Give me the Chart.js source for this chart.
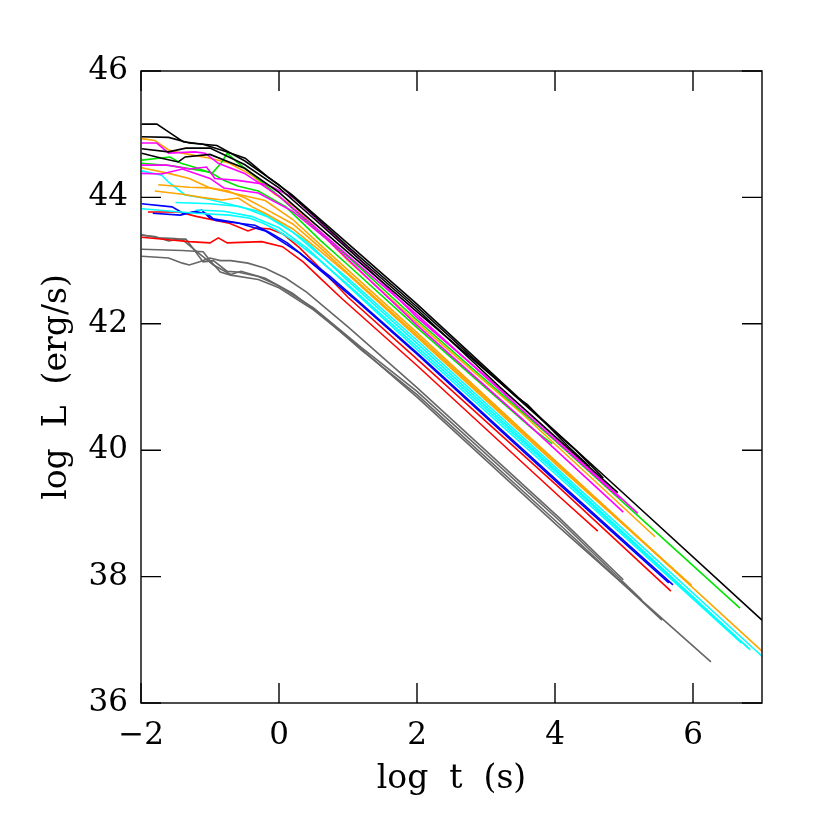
<!DOCTYPE html>
<html>
<head>
<meta charset="utf-8">
<script src="https://cdn.jsdelivr.net/npm/chart.js@4.4.1/dist/chart.umd.min.js"></script>
<style>
  html, body { margin: 0; padding: 0; background: #fff; }
</style>
</head>
<body>
<canvas id="curvasLum" width="830" height="830"></canvas>
<script>
// Ejes
const xTicks = [-2, 0, 2, 4, 6];
const yTicks = [36, 38, 40, 42, 44, 46];

// Curvas [log t, log L]
const black1 = [[-1.99,45.16],[-1.77,45.16],[-1.58,45.02],[-1.39,44.88],[-1.1,44.84],[-0.75,44.72],[-0.49,44.62],[-0.16,44.32],[0.19,44.04],[1,43.27],[2,42.31],[3.5,40.8],[4.94,39.37],[7,37.31]];
const black2 = [[-1.99,44.96],[-1.6,44.95],[-1.3,44.86],[-0.9,44.82],[-0.5,44.58],[0,44.2],[0.5,43.72],[1,43.22],[2,42.27],[3,41.27],[4.3,40.0],[4.7,39.56]];
const black3 = [[-1.99,44.77],[-1.6,44.72],[-1.35,44.78],[-1.0,44.78],[-0.5,44.52],[0,44.15],[0.5,43.67],[1,43.18],[2,42.23],[3.2,41.0],[4.91,39.33]];
const black4 = [[-1.99,44.7],[-1.7,44.62],[-1.46,44.56],[-1.36,44.64],[-1.0,44.68],[-0.5,44.46],[0,44.08],[0.5,43.6],[1,43.13],[2,42.19],[3.45,40.84],[3.6,40.72],[4.2,40.05],[4.5,39.74]];

const magenta1 = [[-1.99,44.86],[-1.77,44.86],[-1.6,44.7],[-1.22,44.72],[-1.07,44.7],[-0.88,44.54],[-0.5,44.38],[0,44.02],[0.5,43.55],[1,43.08],[2,42.14],[3,41.15],[4.94,39.24]];
const magenta2 = [[-1.99,44.51],[-1.62,44.51],[-1.3,44.45],[-1.05,44.48],[-0.93,44.3],[-0.6,44.27],[-0.16,44.2],[0.23,43.98],[0.7,43.5],[1,43.2],[2,42.1],[3.5,40.7],[5.2,39.0]];
const magenta3 = [[-1.99,44.38],[-1.7,44.37],[-1.4,44.45],[-1.0,44.3],[-0.8,44.15],[-0.3,44.07],[0.2,43.78],[0.7,43.33],[1,43.02],[2,41.98],[3.5,40.52],[4.99,39.02]];

const green1 = [[-1.99,44.59],[-1.58,44.64],[-1.42,44.54],[-1.2,44.47],[-0.97,44.38],[-0.84,44.54],[-0.75,44.7],[-0.6,44.55],[-0.42,44.4],[0,44.02],[0.5,43.52],[1,43.06],[2,42.06],[4,40.15],[6.68,37.5]];
const green2 = [[-1.99,44.54],[-1.55,44.5],[-1.0,44.4],[-0.8,44.27],[-0.6,44.18],[-0.3,44.1],[0.1,43.85],[0.6,43.32],[1,42.93],[2,41.94],[3.64,40.37],[3.96,40.1]];

const orange1 = [[-1.99,44.93],[-1.8,44.9],[-1.6,44.75],[-1.4,44.7],[-1.0,44.62],[-0.74,44.55],[-0.39,44.35],[-0.06,44.05],[0.23,43.85],[1,43.0],[2,42.02],[3.5,40.6],[5.45,38.63]];
const orange2 = [[-1.99,44.47],[-1.6,44.38],[-1.3,44.3],[-1.0,44.15],[-0.6,44.05],[-0.2,43.95],[0.2,43.65],[0.6,43.25],[1,42.85],[2,41.86],[3.64,40.2],[5.93,37.9]];
const orange3 = [[-1.75,44.2],[-1.3,44.16],[-1.0,44.15],[-0.74,44.1],[-0.49,43.99],[-0.25,43.85],[0.2,43.58],[0.6,43.2],[1,42.8],[2,41.82],[4.07,39.75],[7,36.82]];
const orange4 = [[-1.8,44.1],[-1.4,44.05],[-1.12,44.0],[-0.83,43.96],[-0.59,43.99],[-0.39,43.85],[-0.2,43.75],[0.2,43.5],[0.6,43.15],[1,42.78],[2,41.79],[4.07,39.72],[5.98,37.86]];

const cyan1 = [[-1.99,44.42],[-1.7,44.35],[-1.6,44.24],[-1.36,44.04],[-1.1,43.99],[-0.74,43.9],[-0.49,43.83],[-0.16,43.69],[0.2,43.45],[0.6,43.08],[1,42.72],[2,41.74],[4.07,39.67],[7,36.74]];
const cyan2 = [[-1.99,43.82],[-1.2,43.75],[-0.72,43.72],[-0.42,43.67],[-0.23,43.59],[-0.03,43.48],[0.26,43.28],[0.55,43.04],[1,42.62],[2,41.64],[4.07,39.6],[6.8,36.87]];
const cyan3 = [[-1.5,43.92],[-1.0,43.9],[-0.6,43.86],[-0.3,43.78],[0,43.6],[0.4,43.3],[1,42.68],[2,41.69],[4.07,39.63],[6.83,36.84]];
const cyan4 = [[-1.2,43.8],[-0.8,43.78],[-0.4,43.7],[0,43.52],[0.4,43.2],[1,42.6],[2,41.59],[4.07,39.56],[6.7,36.95]];

const blue1 = [[-1.99,43.9],[-1.55,43.85],[-1.39,43.75],[-1.2,43.77],[-1.04,43.74],[-0.93,43.64],[-0.64,43.6],[-0.35,43.56],[-0.13,43.44],[0.12,43.28],[0.35,43.08],[0.74,42.75],[1.13,42.38],[2,41.54],[4.07,39.48],[5.71,37.87]];
const blue2 = [[-1.83,43.75],[-1.43,43.72],[-1.25,43.77],[-1.12,43.8],[-1.0,43.67],[-0.6,43.6],[-0.2,43.47],[0.3,43.12],[1.13,42.36],[2,41.52],[4.07,39.45],[5.65,37.9]];

const red1 = [[-1.9,43.77],[-1.45,43.77],[-1.2,43.7],[-0.72,43.59],[-0.45,43.47],[-0.32,43.52],[-0.13,43.5],[0.06,43.42],[0.3,43.2],[0.55,42.93],[1.0,42.42],[2,41.44],[4.07,39.4],[5.68,37.77]];
const red2 = [[-1.99,43.37],[-1.6,43.33],[-1.3,43.3],[-1.0,43.28],[-0.88,43.36],[-0.75,43.28],[-0.25,43.3],[0.05,43.22],[0.35,42.98],[0.6,42.72],[0.91,42.4],[2,41.34],[4.07,39.26],[4.62,38.72]];

const gray1 = [[-1.99,43.4],[-1.8,43.38],[-1.6,43.31],[-1.45,43.34],[-1.35,43.34],[-1.25,43.2],[-1.1,42.98],[-0.95,43.0],[-0.75,42.83],[-0.6,42.82],[-0.3,42.75],[0,42.6],[0.5,42.25],[1.2,41.62],[2,40.93],[4.07,38.88],[5.26,37.63]];
const gray2 = [[-1.99,43.41],[-1.75,43.36],[-1.5,43.35],[-1.4,43.33],[-1.2,43.15],[-0.95,42.93],[-0.7,42.78],[-0.55,42.83],[-0.2,42.72],[0.2,42.48],[0.6,42.15],[1.2,41.58],[2,40.88],[4.07,38.82],[5.55,37.31]];
const gray3 = [[-1.99,43.18],[-1.4,43.16],[-1.1,43.14],[-1.0,43.0],[-0.85,42.82],[-0.7,42.77],[-0.3,42.7],[0,42.57],[0.5,42.22],[1.0,41.78],[2,40.84],[4.07,38.77],[6.26,36.65]];
const gray4 = [[-1.99,43.07],[-1.6,43.04],[-1.4,42.96],[-1.3,42.93],[-1.15,42.98],[-1.0,43.04],[-0.85,43.0],[-0.7,43.0],[-0.45,42.96],[-0.2,42.88],[0.1,42.72],[0.4,42.5],[1.0,41.95],[2,40.99],[4.07,38.92],[4.99,37.95]];

// Grupos de color (el primero queda dibujado encima)
const grupos = [
    { color: '#000000', curvas: [black1, black2, black3, black4] },
    { color: '#ff00ff', curvas: [magenta1, magenta2, magenta3] },
    { color: '#00e400', curvas: [green1, green2] },
    { color: '#ffa500', curvas: [orange1, orange2, orange3, orange4] },
    { color: '#00ffff', curvas: [cyan1, cyan2, cyan3, cyan4] },
    { color: '#0000ff', curvas: [blue1, blue2] },
    { color: '#ff0000', curvas: [red1, red2] },
    { color: '#666666', curvas: [gray1, gray2, gray3, gray4] }
];

const datasets = [];
grupos.forEach(g => {
    g.curvas.forEach(c => {
        datasets.push({
            data: c.map(p => ({ x: p[0], y: p[1] })),
            borderColor: g.color,
            borderWidth: 1.6,
            pointRadius: 0,
            showLine: true,
            fill: false,
            tension: 0
        });
    });
});

// Marco con marcas hacia dentro en los cuatro lados
const marcoPlugin = {
    id: 'marco',
    afterDatasetsDraw(chart) {
        const { ctx, chartArea: a, scales: { x, y } } = chart;
        const largo = 20;
        ctx.save();
        ctx.strokeStyle = '#000';
        ctx.lineWidth = 1.4;
        ctx.strokeRect(a.left, a.top, a.right - a.left, a.bottom - a.top);
        ctx.beginPath();
        xTicks.forEach(v => {
            const px = x.getPixelForValue(v);
            ctx.moveTo(px, a.bottom); ctx.lineTo(px, a.bottom - largo);
            ctx.moveTo(px, a.top); ctx.lineTo(px, a.top + largo);
        });
        yTicks.forEach(v => {
            const py = y.getPixelForValue(v);
            ctx.moveTo(a.left, py); ctx.lineTo(a.left + largo, py);
            ctx.moveTo(a.right, py); ctx.lineTo(a.right - largo, py);
        });
        ctx.stroke();
        ctx.restore();
    }
};

const fuente = 'DejaVu Serif';
const menos = v => String(v).replace('-', '\u2212');

new Chart(document.getElementById('curvasLum'), {
    type: 'scatter',
    data: { datasets },
    options: {
        responsive: false,
        animation: false,
        layout: { padding: { top: 71, right: 68, left: 0, bottom: 0 } },
        plugins: { legend: { display: false }, tooltip: { enabled: false } },
        scales: {
            x: {
                type: 'linear',
                min: -2,
                max: 7,
                afterBuildTicks: s => { s.ticks = xTicks.map(v => ({ value: v })); },
                afterFit: s => { s.height = 127; },
                grid: { display: false },
                border: { display: false },
                ticks: { callback: menos, color: '#000', padding: 6, maxRotation: 0, font: { family: fuente, size: 31 } },
                title: { display: true, text: 'log  t  (s)', color: '#000', padding: { top: 0, bottom: 31 }, font: { family: fuente, size: 33 } }
            },
            y: {
                type: 'linear',
                min: 36,
                max: 46,
                afterBuildTicks: s => { s.ticks = yTicks.map(v => ({ value: v })); },
                afterFit: s => { s.width = 141; },
                grid: { display: false },
                border: { display: false },
                ticks: { callback: menos, color: '#000', padding: 5, font: { family: fuente, size: 31 } },
                title: { display: true, text: 'log  L  (erg/s)', color: '#000', padding: { top: 38, bottom: 0 }, font: { family: fuente, size: 33 } }
            }
        }
    },
    plugins: [marcoPlugin]
});
</script>
</body>
</html>
